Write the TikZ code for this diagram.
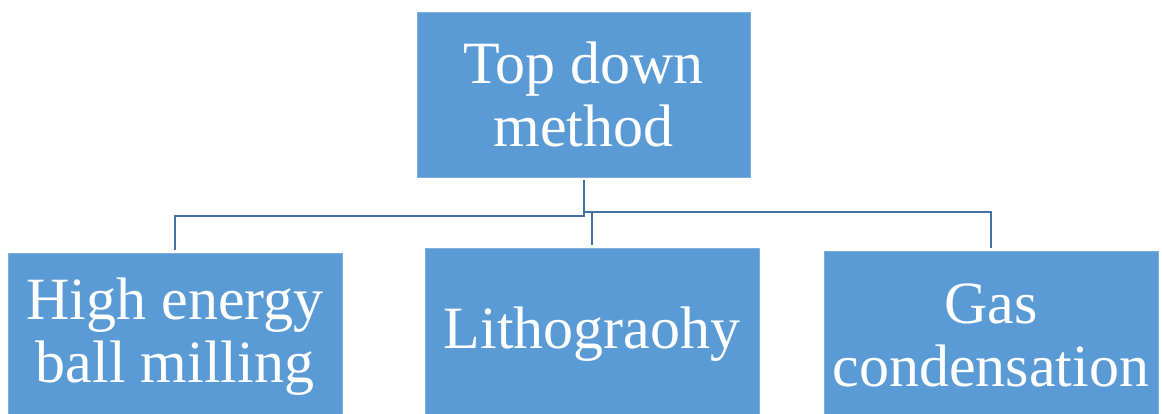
\documentclass[tikz,border=0pt]{standalone}
\usepackage{fontspec}
\setmainfont{Liberation Serif}
\definecolor{boxblue}{RGB}{91,155,213}
\definecolor{lineblue}{RGB}{68,114,163}
\tikzset{
  box/.style={fill=boxblue, draw=boxblue!80!white, line width=0.6pt, text=white, align=center,
    minimum width=334pt, inner sep=0pt, font=\fontsize{60}{63}\selectfont},
  conn/.style={draw=lineblue, line width=2pt}
}
\begin{document}
\begin{tikzpicture}[x=1pt,y=-1pt]
\useasboundingbox (0,0) rectangle (1162,413);
\node[box, minimum width=333pt, minimum height=165pt] (top) at (583.5,94.5) {Top down\\method};
\node[box, minimum height=167pt] (left) at (175,336.5) {High energy\\ball milling};
\node[box, minimum height=172pt] (mid) at (592,334) {Lithograohy};
\node[box, minimum height=169pt] (right) at (991,335.5) {Gas\\condensation};
\coordinate (j1) at (0,216);
\coordinate (j2) at (0,212);
\draw[conn] ([yshift=-3pt]top.south) -- (top.south |- j1) -| ([yshift=3pt]left.north);
\draw[conn] (top.south |- j2) -- (mid.north |- j2) -| ([yshift=3pt]right.north);
\draw[conn] (mid.north |- j2) -- ([yshift=3pt]mid.north);
\end{tikzpicture}
\end{document}
